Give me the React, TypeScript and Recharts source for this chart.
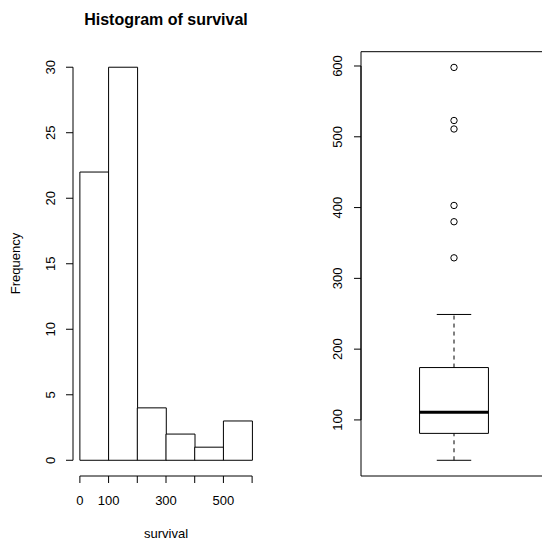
import React from 'react';
import {
  ComposedChart,
  Bar,
  XAxis,
  YAxis,
  ReferenceLine,
  ReferenceArea,
  Scatter,
} from 'recharts';

const FONT = '"Liberation Sans", Arial, Helvetica, sans-serif';

// ---- Histogram data ----
const binStarts = [0, 100, 200, 300, 400, 500];
const binWidth = 100;
const frequencies = [22, 30, 4, 2, 1, 3];
const histXTicks = [0, 100, 200, 300, 400, 500, 600];
const histXLabels = ['0', '100', '', '300', '', '500', ''];
const histYTicks = [0, 5, 10, 15, 20, 25, 30];
const histXDomain = [-24, 624];
const histYDomain = [-1.2, 31.2];

// ---- Boxplot data ----
const boxWhiskers = [43, 249]; // lower, upper
const boxQuartiles = [81, 111, 174]; // Q1, median, Q3
const boxOutliers = [598, 523, 511, 403, 380, 329];
const boxYTicks = [100, 200, 300, 400, 500, 600];
const boxXDomain = [0.46, 1.54];
const boxYDomain = [20.8, 620.2];

const histData = binStarts.map((s, i) => ({ mid: s + binWidth / 2, count: frequencies[i] }));
const outlierData = boxOutliers.map((v) => ({ x: 1, y: v }));

const RotTick = (props: any) => {
  const { x, y, payload } = props;
  return (
    <text
      x={x}
      y={y}
      transform={`rotate(-90 ${x} ${y})`}
      textAnchor="middle"
      fontSize={13}
      fontFamily={FONT}
      fill="#000"
    >
      {payload.value}
    </text>
  );
};

const OutlierDot = (props: any) => {
  const { cx, cy } = props;
  return <circle cx={cx} cy={cy} r={3.2} fill="none" stroke="#000" strokeWidth={1} />;
};

export default function App() {
  const [lo, hi] = boxWhiskers;
  const [q1, med, q3] = boxQuartiles;
  return (
    <div
      style={{
        position: 'fixed',
        left: 0,
        top: 0,
        width: 542,
        height: 540,
        overflow: 'hidden',
        background: '#fff',
      }}
    >
      <div style={{ position: 'absolute', left: 0, top: 0 }}>
        <ComposedChart
          width={271}
          height={540}
          data={histData}
          margin={{ top: 51.5, right: 12, bottom: 34, left: 13 }}
          barCategoryGap={0}
          barGap={0}
        >
          <XAxis
            type="number"
            dataKey="mid"
            domain={histXDomain}
            allowDataOverflow
            ticks={histXTicks}
            interval={0}
            tickFormatter={(v: number) => histXLabels[histXTicks.indexOf(v)] ?? ''}
            axisLine={false}
            tickSize={7}
            tickMargin={13}
            stroke="#000"
            tick={{ fill: '#000', fontSize: 13, fontFamily: FONT }}
            height={30}
          />
          <YAxis
            type="number"
            domain={histYDomain}
            allowDataOverflow
            ticks={histYTicks}
            interval={0}
            axisLine={false}
            tickSize={7}
            tickMargin={11}
            stroke="#000"
            tick={<RotTick />}
            width={60}
          />
          <Bar dataKey="count" fill="#fff" stroke="#000" strokeWidth={1} isAnimationActive={false} />
          <ReferenceLine
            segment={[
              { x: histXDomain[0], y: histYTicks[0] },
              { x: histXDomain[0], y: histYTicks[histYTicks.length - 1] },
            ]}
            stroke="#000"
            ifOverflow="visible"
          />
          <ReferenceLine
            segment={[
              { x: histXTicks[0], y: histYDomain[0] },
              { x: histXTicks[histXTicks.length - 1], y: histYDomain[0] },
            ]}
            stroke="#000"
            ifOverflow="visible"
          />
        </ComposedChart>
      </div>

      <div style={{ position: 'absolute', left: 271, top: 0 }}>
        <ComposedChart
          width={300}
          height={540}
          margin={{ top: 51.7, right: 24, bottom: 64, left: 30 }}
        >
          <XAxis type="number" dataKey="x" domain={boxXDomain} allowDataOverflow hide />
          <YAxis
            type="number"
            dataKey="y"
            domain={boxYDomain}
            allowDataOverflow
            ticks={boxYTicks}
            interval={0}
            axisLine={false}
            tickSize={7}
            tickMargin={12}
            stroke="#000"
            tick={<RotTick />}
            width={60}
          />
          <ReferenceArea
            x1={boxXDomain[0]}
            x2={boxXDomain[1]}
            y1={boxYDomain[0]}
            y2={boxYDomain[1]}
            fill="none"
            stroke="#000"
            strokeWidth={1}
            ifOverflow="visible"
          />
          <ReferenceLine
            segment={[
              { x: boxXDomain[0], y: boxYTicks[0] },
              { x: boxXDomain[0], y: boxYTicks[boxYTicks.length - 1] },
            ]}
            stroke="#000"
            ifOverflow="visible"
          />
          {/* whiskers */}
          <ReferenceLine
            segment={[{ x: 1, y: q3 }, { x: 1, y: hi }]}
            stroke="#000"
            strokeDasharray="4 4"
            ifOverflow="visible"
          />
          <ReferenceLine
            segment={[{ x: 1, y: lo }, { x: 1, y: q1 }]}
            stroke="#000"
            strokeDasharray="4 4"
            ifOverflow="visible"
          />
          {/* staples */}
          <ReferenceLine
            segment={[{ x: 0.9, y: hi }, { x: 1.1, y: hi }]}
            stroke="#000"
            ifOverflow="visible"
          />
          <ReferenceLine
            segment={[{ x: 0.9, y: lo }, { x: 1.1, y: lo }]}
            stroke="#000"
            ifOverflow="visible"
          />
          {/* box */}
          <ReferenceArea
            x1={0.8}
            x2={1.2}
            y1={q1}
            y2={q3}
            fill="#fff"
            fillOpacity={1}
            stroke="#000"
            strokeWidth={1}
            ifOverflow="visible"
          />
          <ReferenceLine
            segment={[{ x: 0.8, y: med }, { x: 1.2, y: med }]}
            stroke="#000"
            strokeWidth={3}
            ifOverflow="visible"
          />
          <Scatter data={outlierData} dataKey="y" shape={<OutlierDot />} isAnimationActive={false} />
        </ComposedChart>
      </div>

      <svg
        width={542}
        height={540}
        style={{ position: 'absolute', left: 0, top: 0, pointerEvents: 'none' }}
      >
        <text
          x={166}
          y={24.5}
          textAnchor="middle"
          fontSize={16}
          fontWeight="bold"
          fontFamily={FONT}
          fill="#000"
        >
          Histogram of survival
        </text>
        <text
          x={20}
          y={263.5}
          transform="rotate(-90 20 263.5)"
          textAnchor="middle"
          fontSize={13}
          fontFamily={FONT}
          fill="#000"
        >
          Frequency
        </text>
        <text x={166} y={538} textAnchor="middle" fontSize={13} fontFamily={FONT} fill="#000">
          survival
        </text>
      </svg>
    </div>
  );
}
